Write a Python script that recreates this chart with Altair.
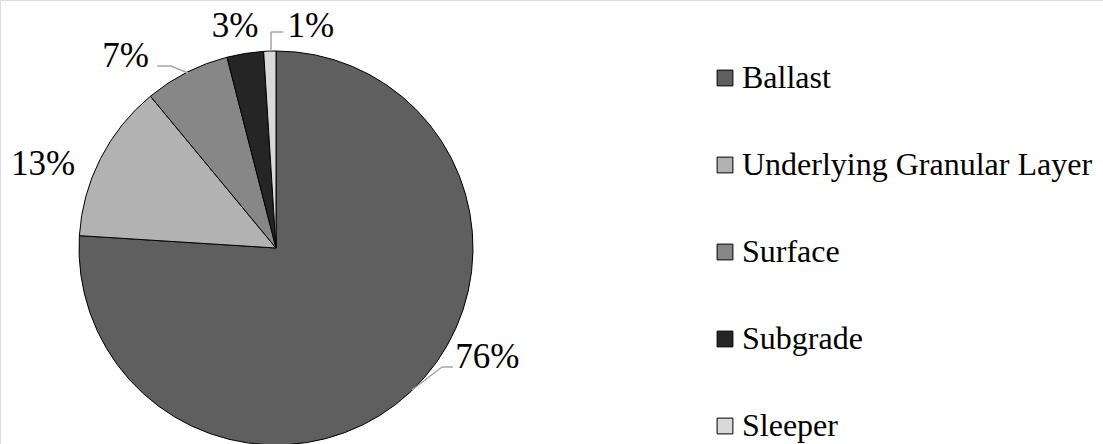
import altair as alt
import pandas as pd

# ---- data ----
categories = ["Ballast", "Underlying Granular Layer", "Surface", "Subgrade", "Sleeper"]
shares = [76, 13, 7, 3, 1]
labels = ["76%", "13%", "7%", "3%", "1%"]
colors = ["#5f5f5f", "#b2b2b2", "#878787", "#252525", "#d9d9d9"]

df = pd.DataFrame({
    "category": categories,
    "share": shares,
    "label": labels,
    "idx": list(range(len(categories))),
})

W, H = 1103, 444
CX, CY, R = 276, 248, 197
FONT = "Liberation Serif"

color_scale = alt.Scale(domain=categories, range=colors)

pie = alt.Chart(df).mark_arc(outerRadius=R, stroke="black", strokeWidth=1).encode(
    theta=alt.Theta("share:Q", stack=True),
    order=alt.Order("idx:Q"),
    x=alt.value(CX),
    y=alt.value(CY),
    color=alt.Color(
        "category:N",
        scale=color_scale,
        sort=categories,
        legend=alt.Legend(
            title=None,
            orient="none",
            legendX=709,
            legendY=62,
            symbolType="square",
            symbolSize=250,
            symbolStrokeColor="black",
            symbolStrokeWidth=1,
            symbolOpacity=1,
            labelFont=FONT,
            labelFontSize=32,
            labelColor="black",
            labelOffset=1,
            labelLimit=500,
            rowPadding=55,
            padding=0,
        ),
    ),
)

# label nudges relative to mid-angle anchor (layout only)
nudges = {
    "Ballast": (54, -48),
    "Underlying Granular Layer": (-28, 31),
    "Surface": (-46, 24),
    "Subgrade": (-5, 16),
    "Sleeper": (42, 19),
}

stacked = alt.Chart(df).transform_window(
    cum="sum(share)", sort=[alt.SortField("idx")]
).transform_calculate(
    mid="(datum.cum - datum.share/2)"
)
text_layers = []
for cat, (dx, dy) in nudges.items():
    t = stacked.transform_filter(alt.datum.category == cat).mark_text(
        radius=230, dx=dx, dy=dy, font=FONT, fontSize=35, color="black",
        align="center", baseline="alphabetic",
    ).encode(
        theta=alt.Theta("mid:Q", scale=alt.Scale(domain=[0, 100], range=[0, 6.283185307179586]), stack=False),
        text="label:N",
        x=alt.value(CX),
        y=alt.value(CY),
    )
    text_layers.append(t)

LEADER = "#a6a6a6"
seg = [
    (412, 390, 442, 367), (442, 367, 453, 367),   # 76%
    (157, 66, 171, 66), (171, 66, 188, 73),       # 7%
    (271, 51, 271, 32), (271, 32, 283, 32),       # 1%
]
leaders = []
for (x1, y1, x2, y2) in seg:
    leaders.append(
        alt.Chart(df).mark_rule(color=LEADER, strokeWidth=1.5).encode(
            x=alt.value(x1), y=alt.value(y1), x2=alt.value(x2), y2=alt.value(y2)
        ).transform_filter(alt.datum.idx == 0)
    )

chart = alt.layer(pie, *leaders, *text_layers).properties(
    width=W, height=H, padding=0, autosize=alt.AutoSizeParams(type="none")
).configure_view(stroke=None).configure(
    background="white", font=FONT
).configure_legend(labelFont=FONT, labelFontSize=32, labelColor="black")

chart.save("out.html", embed_options={"renderer": "svg", "actions": False})
